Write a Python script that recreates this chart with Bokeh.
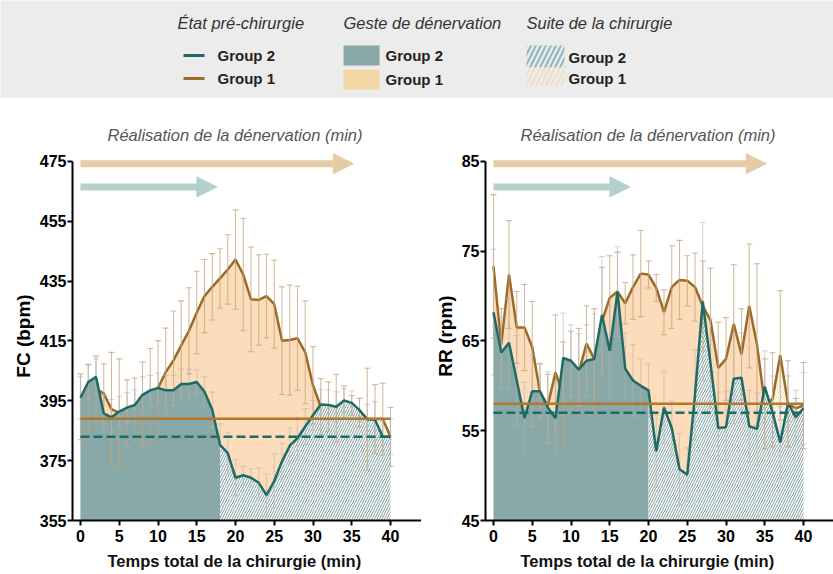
import numpy as np
from bokeh.plotting import figure
from bokeh.models import Range1d, FixedTicker, Arrow, NormalHead, Title
from bokeh.layouts import column, row
from bokeh.embed import file_html
from bokeh.resources import INLINE
from bokeh.core.properties import value

# ---------------- data ----------------
minutes = list(range(41))
x_ticks = [0, 5, 10, 15, 20, 25, 30, 35, 40]

# Heart rate (FC, bpm)
fc_group1 = [393, 396, 399, 397.4, 392.2, 391, 391, 392, 394, 396.5, 399.3, 404.6, 408.5, 413.5,
             418.4, 424.5, 430, 433.1, 435.9, 438.9, 442.2, 437.2, 428.9, 428.7, 430, 427.3, 415.1,
             415.3, 415.9, 411.2, 400.2, 393.0, 393.0, 392.5, 394.5, 393.5, 391, 388.9, 388.9, 388.9, 383]
fc_group1_sd = [11, 11, 11, 10, 19, 18, 11, 10.6, 14, 16, 15.8, 14.7, 16.5, 14.9, 14.4, 13.8, 12.2,
                11.1, 9.9, 11.6, 16.6, 18.8, 17.5, 15.1, 14, 14.7, 18, 18.4, 17.4, 17.2, 12.9, 9.4,
                8.3, 11.3, 5.5, 3.2, 4.8, 17, 11.5, 12, 9.8]
fc_group2 = [396, 401.3, 403, 390.8, 389.5, 391.4, 392.7, 393.6, 397, 398.5, 399.3, 398.5, 398.5, 400.6,
             400.6, 401.3, 398, 392, 380.3, 377.5, 369.3, 370.1, 369.3, 367.6, 363.5, 368.2, 374.8,
             380, 382.5, 386.4, 390.2, 393.8, 393.6, 393, 395.1, 394.3, 391.9, 388.8, 388.7, 383, 383]
fc_group2_sd = [7, 6, 6, 6, 6, 5, 5, 5, 6, 5, 5, 5, 5, 5, 5, 4, 5, 6, 7, 7, 6, 3, 3, 5, 7, 9, 6, 6,
                7, 6, 5, 5, 5, 5, 4, 4, 4, 5, 6, 5, 6]
fc_baseline_group1 = 389
fc_baseline_group2 = 383
fc_y_ticks = [355, 375, 395, 415, 435, 455, 475]

# Respiratory rate (RR, rpm)
rr_group1 = [73.3, 64.6, 72.4, 66.5, 66.5, 64.3, 59.3, 57.8, 61.5, 58.9, 61.5, 61.5, 64.7, 63, 67.2,
             69.8, 70.5, 69.2, 71, 72.5, 72.4, 70.9, 68.2, 71, 71.8, 71.7, 71, 68.9, 67.3, 62, 63,
             66.9, 63.5, 68.9, 64.6, 58, 58.5, 63.4, 58, 57.5, 57.8]
rr_group1_sd = [8, 4, 6, 4, 4.8, 5.1, 3.2, 3.5, 6.4, 6, 4.6, 4.9, 4.2, 5.6, 6, 4.7, 4.4, 2.3, 3.6,
                4.8, 1.5, 1.5, 2.5, 4.6, 4.4, 2.8, 3.8, 5, 5.8, 5.1, 4.6, 6.6, 5.1, 6.9, 9, 5, 5.2,
                7.2, 4.8, 1.1, 4.8]
rr_group2 = [68.2, 63.7, 64.8, 60.6, 56.4, 59.4, 59.4, 57.6, 56.4, 63.1, 62.8, 61.8, 62.8, 63, 67.9,
             63.9, 70.5, 61.9, 60.6, 60, 59.5, 52.7, 57.6, 55.3, 50.7, 50.1, 59, 69.4, 62.5, 55.3,
             55.4, 60.8, 60.9, 55.5, 55.2, 59.9, 57.1, 53.7, 58.1, 56.5, 57.5]
rr_group2_sd = [7, 4, 5, 5, 4, 4, 3, 4, 4, 5, 4, 4, 4, 5, 6.5, 5, 5, 4, 4, 3, 3, 4, 4, 3, 4, 3, 5,
                8.8, 5, 4, 4, 5, 5, 4, 4, 4, 4, 4, 3, 3, 4]
rr_baseline_group1 = 58
rr_baseline_group2 = 57
rr_y_ticks = [45, 55, 65, 75, 85]

# phases (minutes)
denervation_end_group1 = 35
denervation_end_group2_fc = 18
denervation_end_group2_rr = 20
arrow_end_group1 = 35.2
arrow_end_group2 = 17.6

title_text = "Réalisation de la dénervation (min)"
xlabel_text = "Temps total de la chirurgie (min)"
legend_headers = ["État pré-chirurgie", "Geste de dénervation", "Suite de la chirurgie"]
legend_groups = ["Group 2", "Group 1"]

# ---------------- styles ----------------
TEAL_LINE = "#1e6b66"
TEAL_FILL = "#88a9a7"
TEAL_HATCH = "#7a9d9b"
BROWN_LINE = "#9a6a26"
BROWN_BASE = "#b4762a"
PEACH = "#fddcbb"
PEACH_HATCH = "#f2d9b0"
TAN_ERR = "#c4a47c"
GREY_ERR = "#b4b4b4"
ARROW_ORANGE = "#e6cba7"
ARROW_TEAL = "#b4cfcc"
FONT = "Liberation Sans"

PAGE_W, PAGE_H = 833, 574
LEG_H = 98
FIG_H = PAGE_H - LEG_H
FRAME_TOP_PAD = 10          # px of frame above the top tick (room for arrow heads)
TOP_TICK_Y = 161            # page y of top tick
BOTTOM_Y = 523              # page y of x axis
PX_PER_MIN = 7.75
X_START = -8 / PX_PER_MIN


def errorbars(p, x, m, sd, color, alpha):
    lo = m - sd
    hi = m + sd
    cap = 3 / PX_PER_MIN
    kw = dict(line_color=color, line_width=1.1, line_alpha=alpha)
    p.segment(x, lo, x, hi, **kw)
    p.segment(x - cap, hi, x + cap, hi, **kw)
    p.segment(x - cap, lo, x + cap, lo, **kw)


def panel(width, border_l, g1, g1sd, g2, g2sd, base1, base2, yticks, cut2, ylabel):
    frame_w = width - border_l
    x_end = X_START + frame_w / PX_PER_MIN
    y0, y1 = yticks[0], yticks[-1]
    ppu = (BOTTOM_Y - TOP_TICK_Y) / (y1 - y0)   # px per data unit
    upp = 1 / ppu
    y_end = y1 + FRAME_TOP_PAD * upp
    border_t = TOP_TICK_Y - FRAME_TOP_PAD - LEG_H
    border_b = PAGE_H - BOTTOM_Y
    p = figure(width=width, height=FIG_H, output_backend="svg", toolbar_location=None,
               x_range=Range1d(X_START, x_end), y_range=Range1d(y0, y_end),
               min_border_left=border_l, min_border_right=0,
               min_border_top=border_t, min_border_bottom=border_b)
    p.outline_line_color = None
    p.grid.visible = False

    x = np.array(minutes, dtype=float)
    g1 = np.array(g1, dtype=float)
    g2 = np.array(g2, dtype=float)
    g1sd = np.array(g1sd, dtype=float)
    g2sd = np.array(g2sd, dtype=float)

    m1 = x <= denervation_end_group1
    m1h = x >= denervation_end_group1
    m2 = x <= cut2
    m2h = x >= cut2

    # group 1 fills and line
    p.varea(x[m1], y0, g1[m1], fill_color=PEACH)
    p.varea(x[m1h], y0, g1[m1h], fill_alpha=0, hatch_pattern="/", hatch_color=PEACH_HATCH,
            hatch_scale=5, hatch_weight=1)
    p.line(x, g1, line_color=BROWN_LINE, line_width=2.5)
    # group 2 fills
    p.varea(x[m2], y0, g2[m2], fill_color=TEAL_FILL)
    p.varea(x[m2h], y0, g2[m2h], fill_color="white", hatch_pattern="/", hatch_color=TEAL_HATCH,
            hatch_scale=5, hatch_weight=1)
    # error bars
    errorbars(p, x, g1, g1sd, TAN_ERR, 0.75)
    errorbars(p, x, g2, g2sd, GREY_ERR, 0.55)
    # group 2 line
    p.line(x, g2, line_color=TEAL_LINE, line_width=2.5)
    # baselines
    xb = [minutes[0], minutes[-1]]
    p.line(xb, [base1, base1], line_color=BROWN_BASE, line_width=2.5)
    p.line(xb, [base2, base2], line_color=TEAL_LINE, line_width=2.5, line_dash="9 4")

    # arrows
    ya = y1 - 2.3 * upp
    yb = y1 - 25.7 * upp
    p.add_layout(Arrow(x_start=minutes[0], y_start=ya, x_end=arrow_end_group1, y_end=ya,
                       line_color=ARROW_ORANGE, line_width=7,
                       end=NormalHead(size=20, fill_color=ARROW_ORANGE, line_color=ARROW_ORANGE,
                                      line_width=1)))
    p.add_layout(Arrow(x_start=minutes[0], y_start=yb, x_end=arrow_end_group2, y_end=yb,
                       line_color=ARROW_TEAL, line_width=7,
                       end=NormalHead(size=20, fill_color=ARROW_TEAL, line_color=ARROW_TEAL,
                                      line_width=1)))

    # titles (above: phase title, below: x axis title)
    p.add_layout(Title(text=title_text, align="left", offset=35, text_font=FONT,
                       text_font_style="italic", text_font_size="16.5px",
                       text_color="#555555", padding=(0, 0, 0, 3)), "above")
    p.add_layout(Title(text=xlabel_text, align="left", offset=35, text_font=FONT,
                       text_font_style="bold", text_font_size="16.5px",
                       text_color="#111111"), "below")

    # axes
    p.xaxis.ticker = FixedTicker(ticks=x_ticks)
    p.yaxis.ticker = FixedTicker(ticks=yticks)
    p.yaxis.bounds = (y0, y1)
    for ax in (p.xaxis, p.yaxis):
        ax.axis_line_width = 2
        ax.axis_line_color = "black"
        ax.major_tick_line_width = 2
        ax.major_tick_line_color = "black"
        ax.major_tick_out = 5
        ax.major_tick_in = 0
        ax.minor_tick_line_color = None
        ax.major_label_text_font = FONT
        ax.major_label_text_font_style = "bold"
        ax.major_label_text_font_size = "16px"
        ax.major_label_text_color = "black"
    p.xaxis.major_label_standoff = 4
    p.yaxis.major_label_standoff = 1
    p.yaxis.axis_label = ylabel
    p.yaxis.axis_label_text_font = FONT
    p.yaxis.axis_label_text_font_style = "bold"
    p.yaxis.axis_label_text_font_size = "19px"
    p.yaxis.axis_label_text_color = "black"
    p.yaxis.axis_label_standoff = 3
    return p


p1 = panel(421, 72, fc_group1, fc_group1_sd, fc_group2, fc_group2_sd, fc_baseline_group1,
           fc_baseline_group2, fc_y_ticks, denervation_end_group2_fc, "FC (bpm)")
p2 = panel(412, 64, rr_group1, rr_group1_sd, rr_group2, rr_group2_sd, rr_baseline_group1,
           rr_baseline_group2, rr_y_ticks, denervation_end_group2_rr, "RR (rpm)")

# ---------------- legend box ----------------
leg = figure(width=PAGE_W, height=LEG_H, output_backend="svg", toolbar_location=None,
             x_range=Range1d(0, PAGE_W), y_range=Range1d(LEG_H, 0), min_border=0)
leg.axis.visible = False
leg.grid.visible = False
leg.outline_line_color = None
leg.background_fill_color = "#ececec"
leg.border_fill_color = "#ececec"

col_x = [177, 343, 526]
header_y = 22
row_y = [55, 78]
leg.text(x=col_x, y=[header_y] * 3, text=legend_headers, text_font=value(FONT),
         text_font_style="italic", text_font_size="16.5px", text_color="#333333",
         text_baseline="middle")

# column 1: lines
sw_x0 = col_x[0] + 6
leg.segment(x0=[sw_x0] * 2, y0=row_y, x1=[sw_x0 + 21] * 2, y1=row_y,
            line_color=[TEAL_LINE, BROWN_LINE], line_width=3)
leg.text(x=[sw_x0 + 34] * 2, y=row_y, text=legend_groups, text_font=value(FONT),
         text_font_style="bold", text_font_size="15px", text_color="#222222",
         text_baseline="middle")
# column 2: solid swatches
leg.quad(left=[col_x[1]] * 2, right=[col_x[1] + 36] * 2, top=[row_y[0] - 10, row_y[1] - 9],
         bottom=[row_y[0] + 10, row_y[1] + 11], fill_color=[TEAL_FILL, "#f3d9a6"], line_color=None)
leg.text(x=[col_x[1] + 42] * 2, y=[row_y[0], row_y[1] + 1], text=legend_groups, text_font=value(FONT),
         text_font_style="bold", text_font_size="15px", text_color="#222222",
         text_baseline="middle")
# column 3: hatched swatches
leg.quad(left=col_x[2], right=col_x[2] + 38, top=row_y[0] - 10, bottom=row_y[0] + 12,
         fill_color="#e3ecec", fill_alpha=0.6, line_color=None, hatch_pattern="/",
         hatch_color="#93b5ba", hatch_scale=10, hatch_weight=2)
leg.quad(left=col_x[2], right=col_x[2] + 38, top=row_y[1] - 11, bottom=row_y[1] + 7,
         fill_alpha=0, line_color=None, hatch_pattern="/", hatch_color="#f1ddb2",
         hatch_scale=10, hatch_weight=1.5)
leg.text(x=[col_x[2] + 42] * 2, y=[row_y[0] + 2, row_y[1]], text=legend_groups,
         text_font=value(FONT), text_font_style="bold", text_font_size="15px",
         text_color="#222222", text_baseline="middle")

layout = column(leg, row(p1, p2))
open("out.html", "w").write(file_html(layout, INLINE))
